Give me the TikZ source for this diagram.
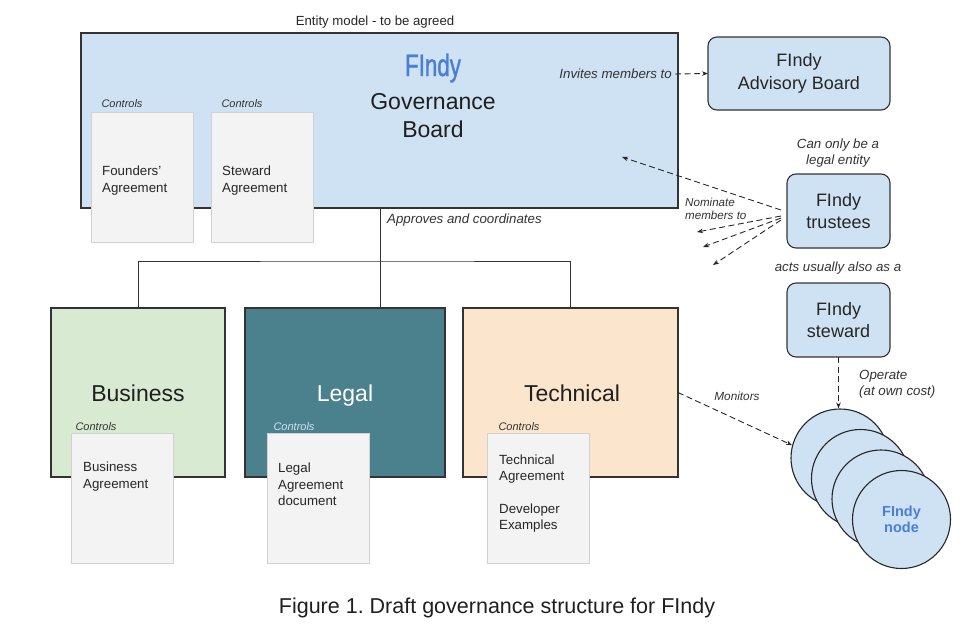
\documentclass[tikz,border=0pt]{standalone}
\usepackage{fontspec}
\setmainfont{Liberation Sans}
\newfontfamily\titlefont[FakeStretch=0.72,FakeBold=1.2]{Liberation Sans}
\usetikzlibrary{arrows.meta}
\definecolor{boardblue}{HTML}{CFE2F3}
\definecolor{bizgreen}{HTML}{D9EAD3}
\definecolor{legalteal}{HTML}{4A818D}
\definecolor{techpeach}{HTML}{FCE5CD}
\definecolor{docgray}{HTML}{F3F3F3}
\definecolor{findyblue}{HTML}{4A7FD8}
\definecolor{inkgray}{HTML}{333333}
\newcommand{\fsz}[1]{\fontsize{#1}{#1}\selectfont}
\frenchspacing
\begin{document}
\begin{tikzpicture}[x=1pt,y=-1pt,
  area/.style={draw=inkgray, line width=1.1pt, inner sep=0pt, outer sep=0pt},
  doc/.style={draw=black!18, fill=docgray, line width=0.8pt, inner sep=0pt,
    minimum width=102, minimum height=130},
  roundbox/.style={area, fill=boardblue, rounded corners=9pt, align=center,
    font=\fontsize{18}{22.5}\selectfont, text=black!85},
  doctext/.style={anchor=west, align=left, font=\fontsize{13.3}{16.5}\selectfont,
    text=black!85, inner sep=0pt},
  note/.style={font=\itshape\fontsize{13.3}{16}\selectfont, text=inkgray, align=center,
    inner sep=0pt},
  ctrl/.style={note, font=\itshape\fontsize{11}{12}\selectfont},
  grouplabel/.style={anchor=base, font=\fsz{23}, text=black!88},
  dasharrow/.style={draw=black!85, line width=0.9pt, dash pattern=on 6pt off 3.5pt,
    -{Stealth[length=6pt,width=4.5pt]}},
  tree/.style={draw=black!80, line width=1pt},
  nodecirc/.style={circle, draw=black!85, line width=1.1pt, fill=boardblue,
    minimum size=98, inner sep=0pt}]
\useasboundingbox (0,0) rectangle (964,629);

% governance board with its agreements
\node[note, font=\fsz{13.2}, text=black!85] (entity) at (375,22) {Entity model - to be agreed};
\node[area, fill=boardblue, minimum width=597, minimum height=175] (gov) at (379.5,120.5) {};
\node[text=findyblue, font=\titlefont\fsz{31}] (govtitle) at (433,68) {FIndy};
\node[align=center, font=\fontsize{23}{28}\selectfont, text=black!88] (govname) at (433,116) {Governance\\Board};

\node[ctrl] (ctrlfounders) at (122,104) {Controls};
\node[doc] (founders) at (142,177) {};
\node[doctext] at (102,180.5) {Founders'\\Agreement};
\node[ctrl] (ctrlsteward) at (242,104) {Controls};
\node[doc] (stewardagr) at (262,177) {};
\node[doctext] at (222,180.5) {Steward\\Agreement};

% advisory board
\node[note, anchor=east] (invites) at (672,74) {Invites members to};
\node[roundbox, minimum width=182, minimum height=73] (advisory) at (799,73.5) {FIndy\\Advisory Board};
\draw[dasharrow] (invites.east) ++(3,0) -- (advisory.west);

% trustees and steward
\node[note, font=\itshape\fontsize{13.3}{16.5}\selectfont] (legalonly) at (838,153) {Can only be a\\legal entity};
\node[roundbox, minimum width=103, minimum height=74] (trustees) at (838.5,211) {FIndy\\trustees};
\node[note] (actsas) at (838,268) {acts usually also as a};
\node[roundbox, minimum width=103, minimum height=74] (steward) at (838.5,320) {FIndy\\steward};

\coordinate (nomgov) at (622,157);
\coordinate (nom1) at (697,232);
\coordinate (nom2) at (703,247);
\coordinate (nom3) at (713,265);
\draw[dasharrow] (trustees.west) ++(-6,-1) -- (nomgov);
\draw[dasharrow] (trustees.west) ++(-6,5) -- (nom1);
\draw[dasharrow] (trustees.west) ++(-6,7) -- (nom2);
\draw[dasharrow] (trustees.west) ++(-6,9) -- (nom3);
\node[note, font=\itshape\fontsize{11.6}{13}\selectfont, align=left, anchor=west] (nominate) at (685,209) {Nominate\\members to};

% working groups
\node[note, anchor=west, font=\itshape\fsz{13.3}] (approves) at (387,220) {Approves and coordinates};
\node[area, fill=bizgreen, minimum width=174, minimum height=169] (business) at (138,392.5) {};
\node[area, fill=legalteal, minimum width=200, minimum height=169] (legal) at (345,392.5) {};
\node[area, fill=techpeach, minimum width=215, minimum height=169] (tech) at (570.5,392.5) {};
\node[grouplabel] at (138,401.5) {Business};
\node[grouplabel, text=white] at (345,401.5) {Legal};
\node[grouplabel] at (572,401.5) {Technical};

\coordinate (split) at (380,261);
\draw[tree] (gov.south -| split) -- (legal.north -| split);
\draw[tree] (business.north) |- (split) -| (tech.north);

\node[ctrl] (ctrlbiz) at (96,427) {Controls};
\node[doc] (bizagr) at (122,498.5) {};
\node[doctext] at (83,476.5) {Business\\Agreement};
\node[ctrl, text=boardblue] (ctrllegal) at (294,427) {Controls};
\node[doc] (legalagr) at (318.5,498.5) {};
\node[doctext] at (278,484.5) {Legal\\Agreement\\document};
\node[ctrl] (ctrltech) at (519,427) {Controls};
\node[doc] (techagr) at (538.5,498.5) {};
\node[doctext] at (499,469) {Technical\\Agreement};
\node[doctext] at (499,518) {Developer\\Examples};

% nodes
\foreach \i in {0,...,3}
  \node[nodecirc] (node\i) at ({840+20.5*\i},{458+20.5*\i}) {};
\node[align=center, font=\bfseries\fontsize{14.5}{16.5}\selectfont, text=findyblue] (nodename) at (node3) {FIndy\\node};
\draw[dasharrow] (steward.south) -- (steward.south |- node0.north);
\node[note, align=left, anchor=west] (operate) at (859,384) {Operate\\(at own cost)};
\draw[dasharrow] (tech.east) -- (node0.165);
\node[note, font=\itshape\fontsize{11.8}{12}\selectfont] (monitors) at (737,396) {Monitors};

% caption
\node[font=\fsz{21.5}, text=black!88] (caption) at (497,608) {Figure 1. Draft governance structure for FIndy};
\end{tikzpicture}
\end{document}
